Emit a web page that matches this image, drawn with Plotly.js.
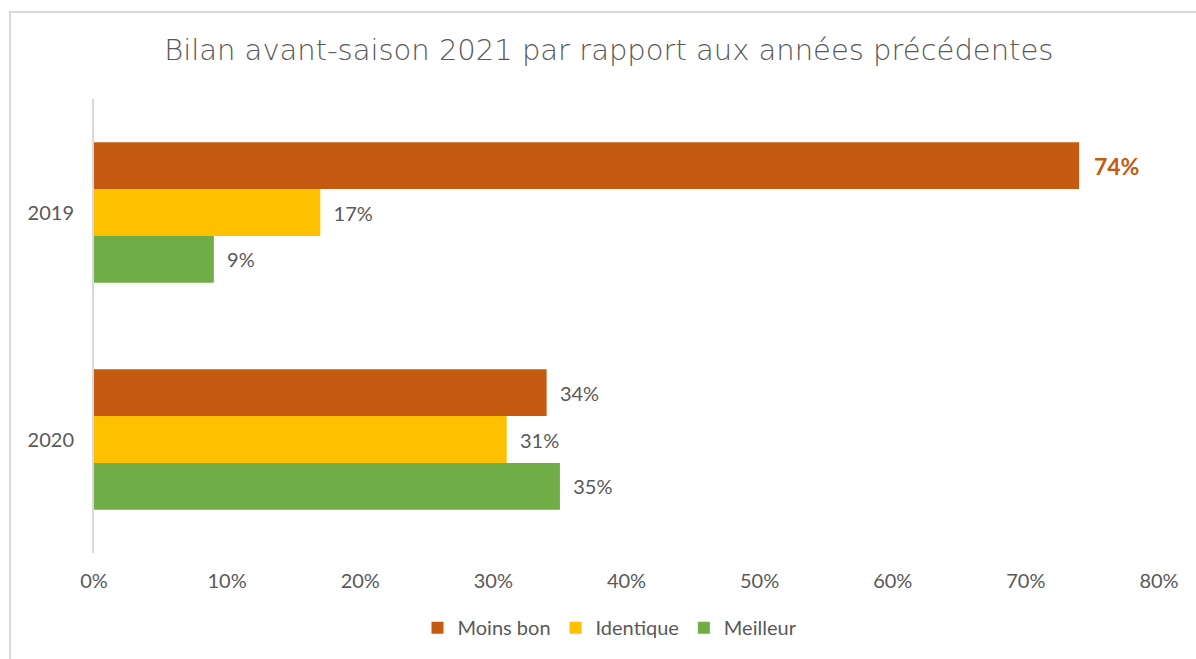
<!DOCTYPE html>
<html>
<head>
<meta charset="utf-8">
<script src="https://cdn.plot.ly/plotly-3.0.1.min.js"></script>
<style>
  html, body { margin: 0; padding: 0; background: #fff; overflow: hidden; }
  #chart { position: absolute; left: 0; top: 0; width: 1196px; height: 659px; }
  #frame { position: absolute; left: 9px; top: 11px; width: 1300px; height: 800px;
           border: 2px solid #d9d9d9; box-sizing: border-box; pointer-events: none; }
</style>
</head>
<body>
<div id="chart"></div>
<div id="frame"></div>
<script>
const categories = ['2019', '2020'];
const seriesNames = ['Moins bon', 'Identique', 'Meilleur'];
const moinsBon = [74, 34];
const identique = [17, 31];
const meilleur = [9, 35];
const xTickVals = [0, 10, 20, 30, 40, 50, 60, 70, 80];
const xTickText = ['0%', '10%', '20%', '30%', '40%', '50%', '60%', '70%', '80%'];
const colors = ['#C55A11', '#FFC000', '#70AD47'];

const allValues = [moinsBon, identique, meilleur];
const maxVal = Math.max(...allValues.flat());
const labelFont = 'Lato, "Liberation Sans", sans-serif';

const traces = allValues.map((vals, i) => ({
  type: 'bar',
  orientation: 'h',
  name: seriesNames[i],
  y: categories,
  x: vals,
  marker: { color: colors[i] },
  text: vals.map(v => v === maxVal ? '\u00a0\u00a0<b>' + v + '%</b>' : '\u00a0\u00a0' + v + '%'),
  textposition: 'outside',
  cliponaxis: false,
  textfont: {
    family: labelFont,
    size: vals.map(v => v === maxVal ? 23 : 20),
    color: vals.map(v => v === maxVal ? '#C55A11' : '#595959')
  },
  hoverinfo: 'x+name'
}));

const layout = {
  width: 1196,
  height: 659,
  margin: { l: 94, r: 37, t: 99, b: 103 },
  paper_bgcolor: 'rgba(0,0,0,0)',
  plot_bgcolor: 'rgba(0,0,0,0)',
  barmode: 'group',
  bargap: 0.38,
  bargroupgap: 0,
  title: {
    text: 'Bilan avant-saison 2021 par rapport aux années précédentes',
    font: { family: '"DejaVu Sans", sans-serif', size: 29, weight: 300, color: '#595959' },
    xref: 'container', x: 0.509, xanchor: 'center',
    yref: 'container', y: 1 - 50 / 659, yanchor: 'middle'
  },
  xaxis: {
    range: [0, 80],
    tickvals: xTickVals,
    ticktext: xTickText,
    showgrid: false,
    zeroline: false,
    showline: false,
    ticks: '',
    ticklabelstandoff: 14,
    tickfont: { family: labelFont, size: 20, color: '#595959' },
    fixedrange: true
  },
  yaxis: {
    type: 'category',
    categoryorder: 'array',
    categoryarray: categories,
    autorange: 'reversed',
    showgrid: false,
    zeroline: false,
    showline: true,
    linecolor: '#d9d9d9',
    linewidth: 2,
    ticks: '',
    ticklabelstandoff: 14,
    tickfont: { family: labelFont, size: 20, color: '#595959' },
    fixedrange: true
  },
  showlegend: true,
  legend: {
    orientation: 'h',
    x: (610 - 94) / 1065, xanchor: 'center',
    y: (556 - 631) / 456, yanchor: 'middle',
    font: { family: labelFont, size: 20, color: '#595959' },
    traceorder: 'normal',
    itemwidth: 30
  }
};

Plotly.newPlot('chart', traces, layout, { displayModeBar: false, staticPlot: true });
</script>
</body>
</html>
